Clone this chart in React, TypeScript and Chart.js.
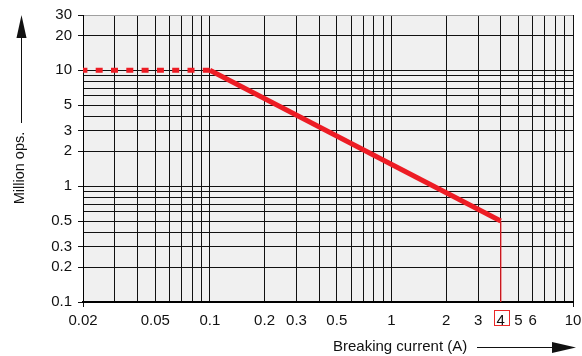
import React, { useEffect, useRef } from 'react';
import { Chart, registerables } from 'chart.js';

Chart.register(...registerables);

// ---- data ----
const dashedX = [0.02, 0.1];
const dashedY = [10, 10];
const solidX = [0.1, 4];
const solidY = [10, 0.5];
const markerX = [4, 4];
const markerY = [0.5, 0.1];

const xGridValues = [
  0.02, 0.03, 0.04, 0.05, 0.06, 0.07, 0.08, 0.09,
  0.1, 0.2, 0.3, 0.4, 0.5, 0.6, 0.7, 0.8, 0.9,
  1, 2, 3, 4, 5, 6, 7, 8, 9, 10,
];
const xTickLabels = [0.02, 0.05, 0.1, 0.2, 0.3, 0.5, 1, 2, 3, 4, 5, 6, 10];
const yGridValues = [
  0.1, 0.2, 0.3, 0.4, 0.5, 0.6, 0.7, 0.8, 0.9,
  1, 2, 3, 4, 5, 6, 7, 8, 9,
  10, 20, 30,
];
const yTickLabels = [0.1, 0.2, 0.3, 0.5, 1, 2, 3, 5, 10, 20, 30];
const highlightedX = 4;

const xTitle = 'Breaking current (A)';
const yTitle = 'Million ops.';

const RED = 'rgb(237,28,36)';
const FONT = "'Liberation Sans', Arial, Helvetica, sans-serif";

const near = (a: number, b: number) => Math.abs(a - b) / b < 1e-6;
const inList = (v: number, list: number[]) => list.some((l) => near(v, l));

const zip = (xs: number[], ys: number[]) => xs.map((x, i) => ({ x, y: ys[i] }));

const decorPlugin = {
  id: 'decor',
  beforeDraw(chart: any) {
    const { ctx, chartArea } = chart;
    ctx.save();
    ctx.fillStyle = '#f0f0f0';
    ctx.fillRect(chartArea.left, chartArea.top, chartArea.right - chartArea.left, chartArea.bottom - chartArea.top);
    ctx.restore();
  },
  afterDraw(chart: any) {
    const { ctx, chartArea } = chart;
    const xs = chart.scales.x;
    ctx.save();
    // red box around highlighted tick label
    const px = xs.getPixelForValue(highlightedX);
    ctx.strokeStyle = 'rgb(235,40,40)';
    ctx.lineWidth = 1;
    ctx.strokeRect(Math.round(px) - 6.5, chartArea.bottom + 8.5, 15, 15);

    ctx.fillStyle = '#111';
    ctx.strokeStyle = '#111';
    // x title + arrow
    ctx.font = `15px ${FONT}`;
    ctx.textAlign = 'left';
    ctx.textBaseline = 'middle';
    ctx.fillText(xTitle, 333, 347);
    ctx.beginPath();
    ctx.moveTo(477, 347.5);
    ctx.lineTo(553, 347.5);
    ctx.stroke();
    ctx.beginPath();
    ctx.moveTo(576, 347.5);
    ctx.lineTo(552, 342);
    ctx.lineTo(552, 353);
    ctx.closePath();
    ctx.fill();

    // y title + arrow
    ctx.save();
    ctx.font = `14.5px ${FONT}`;
    ctx.translate(19.5, 168);
    ctx.rotate(-Math.PI / 2);
    ctx.textAlign = 'center';
    ctx.fillText(yTitle, 0, 0);
    ctx.restore();
    ctx.beginPath();
    ctx.moveTo(21.5, 123);
    ctx.lineTo(21.5, 37);
    ctx.stroke();
    ctx.beginPath();
    ctx.moveTo(21.5, 15);
    ctx.lineTo(16.5, 38);
    ctx.lineTo(26.5, 38);
    ctx.closePath();
    ctx.fill();
    ctx.restore();
  },
};

export default function App() {
  const canvasRef = useRef<HTMLCanvasElement | null>(null);

  useEffect(() => {
    if (!canvasRef.current) return;
    const chart = new Chart(canvasRef.current, {
      type: 'line',
      data: {
        datasets: [
          {
            data: zip(markerX, markerY),
            borderColor: 'rgba(237,28,36,0.6)',
            borderWidth: 1,
            pointRadius: 0,
            fill: false,
          },
          {
            data: zip(dashedX, dashedY),
            borderColor: RED,
            borderWidth: 5,
            borderDash: [7, 8.3],
            borderDashOffset: 2.6,
            borderCapStyle: 'butt',
            pointRadius: 0,
            fill: false,
          },
          {
            data: zip(solidX, solidY),
            borderColor: RED,
            borderWidth: 5,
            borderCapStyle: 'butt',
            pointRadius: 0,
            fill: false,
          },
        ],
      },
      options: {
        animation: false,
        responsive: true,
        maintainAspectRatio: false,
        layout: { padding: { left: 0, right: 9, top: 15, bottom: 0 } },
        plugins: {
          legend: { display: false },
          tooltip: { enabled: false },
        },
        scales: {
          x: {
            type: 'logarithmic',
            min: 0.02,
            max: 10,
            afterBuildTicks: (scale: any) => {
              scale.ticks = xGridValues.map((v) => ({ value: v }));
            },
            afterFit: (scale: any) => {
              scale.height = 54;
              scale.paddingLeft = 0;
              scale.paddingRight = 0;
            },
            ticks: {
              autoSkip: false,
              maxRotation: 0,
              minRotation: 0,
              padding: 5,
              color: '#111',
              font: { family: FONT, size: 15 },
              callback: (v: any) => (inList(Number(v), xTickLabels) ? String(Number(v)) : ''),
            },
            grid: {
              color: '#111',
              lineWidth: 1,
              tickLength: 5,
              tickColor: (ctx: any) => {
                const v = ctx.tick ? ctx.tick.value : 0;
                return near(v, 0.02) || near(v, 10) ? '#111' : 'rgba(0,0,0,0)';
              },
            },
            border: { display: true, color: '#000', width: 2 },
          },
          y: {
            type: 'logarithmic',
            min: 0.1,
            max: 30,
            afterBuildTicks: (scale: any) => {
              scale.ticks = yGridValues.map((v) => ({ value: v }));
            },
            afterFit: (scale: any) => {
              scale.width = 83;
              scale.paddingTop = 0;
              scale.paddingBottom = 0;
            },
            ticks: {
              autoSkip: false,
              padding: 6,
              color: '#111',
              font: { family: FONT, size: 15 },
              callback: (v: any) => (inList(Number(v), yTickLabels) ? String(Number(v)) : ''),
            },
            grid: {
              color: (ctx: any) => (ctx.tick && near(ctx.tick.value, 30) ? '#a0a0a0' : '#111'),
              lineWidth: 1,
              tickLength: 5,
              tickColor: (ctx: any) => {
                const v = ctx.tick ? ctx.tick.value : 0;
                return inList(v, yTickLabels) ? '#111' : 'rgba(0,0,0,0)';
              },
            },
            border: { display: true, color: '#000', width: 1 },
          },
        },
      } as any,
      plugins: [decorPlugin],
    });
    return () => chart.destroy();
  }, []);

  return (
    <div style={{ position: 'absolute', left: 0, top: 0, width: 582, height: 356, background: '#fff' }}>
      <canvas ref={canvasRef} />
    </div>
  );
}
